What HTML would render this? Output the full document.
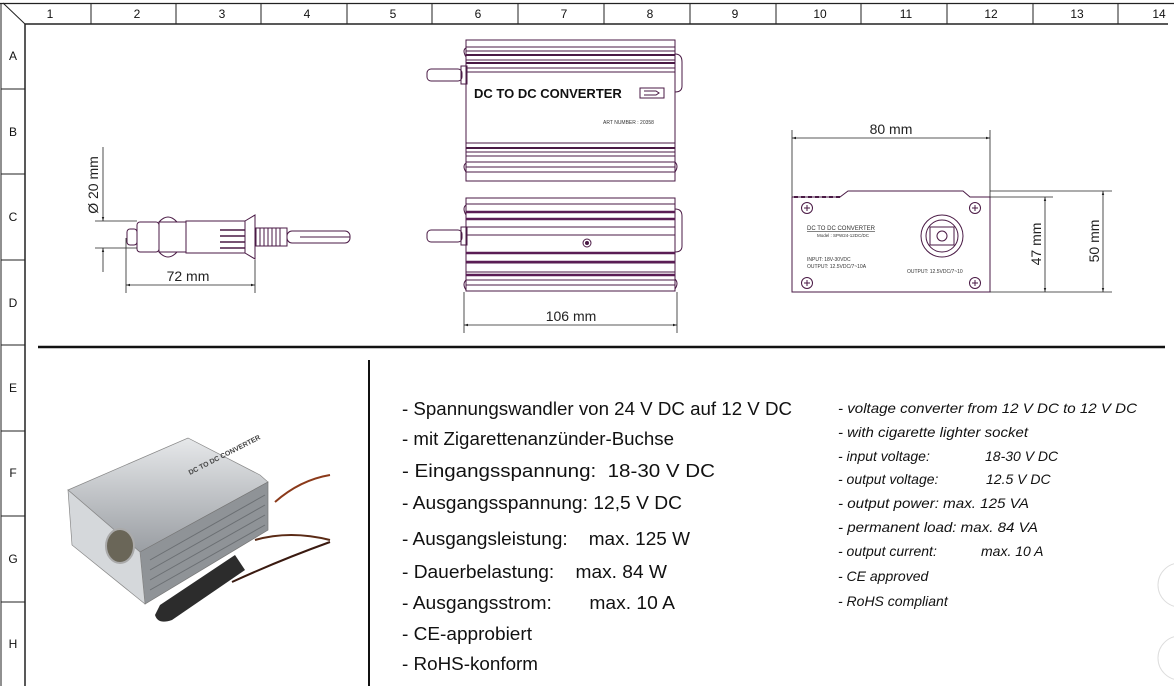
<!DOCTYPE html>
<html><head><meta charset="utf-8"><style>
html,body{margin:0;padding:0;background:#fff;}
svg{display:block;font-family:"Liberation Sans",sans-serif;}
text{white-space:pre;}
.g{font-size:18px;fill:#111;}
.e{font-size:14px;font-style:italic;fill:#111;}
.hd{font-size:12px;fill:#111;text-anchor:middle;}
</style></head><body>
<svg width="1174" height="686" viewBox="0 0 1174 686" xmlns="http://www.w3.org/2000/svg" xml:space="preserve">
<defs>
<linearGradient id="al" x1="0" y1="0" x2="0" y2="1"><stop offset="0" stop-color="#e6e8ea"/><stop offset="1" stop-color="#9a9ea3"/></linearGradient>
<marker id="ar" viewBox="0 0 10 10" refX="10" refY="5" markerWidth="9" markerHeight="5" orient="auto-start-reverse"><path d="M0,2L10,5L0,8z" fill="#222"/></marker>
</defs>
<g stroke="#222" fill="none">
<line x1="0" y1="3.5" x2="1174" y2="3.5" stroke-width="1.2"/>
<line x1="25" y1="24" x2="1168" y2="24" stroke-width="1.5"/>
<line x1="25" y1="24" x2="25" y2="686" stroke-width="1.5"/>
<line x1="3" y1="3" x2="25" y2="24" stroke-width="1"/>
<line x1="1" y1="3" x2="1" y2="686" stroke-width="1"/>
<g stroke-width="1">
<line x1="91" y1="3" x2="91" y2="24"/><line x1="176" y1="3" x2="176" y2="24"/><line x1="261" y1="3" x2="261" y2="24"/><line x1="347" y1="3" x2="347" y2="24"/><line x1="432" y1="3" x2="432" y2="24"/><line x1="518" y1="3" x2="518" y2="24"/><line x1="604" y1="3" x2="604" y2="24"/><line x1="690" y1="3" x2="690" y2="24"/><line x1="776" y1="3" x2="776" y2="24"/><line x1="861" y1="3" x2="861" y2="24"/><line x1="947" y1="3" x2="947" y2="24"/><line x1="1033" y1="3" x2="1033" y2="24"/><line x1="1118" y1="3" x2="1118" y2="24"/>
<line x1="1" y1="89" x2="25" y2="89"/><line x1="1" y1="174" x2="25" y2="174"/><line x1="1" y1="260" x2="25" y2="260"/><line x1="1" y1="345" x2="25" y2="345"/><line x1="1" y1="431" x2="25" y2="431"/><line x1="1" y1="516" x2="25" y2="516"/><line x1="1" y1="602" x2="25" y2="602"/>
</g>
</g>
<g class="hd">
<text x="50" y="18">1</text><text x="137" y="18">2</text><text x="222" y="18">3</text><text x="307" y="18">4</text><text x="393" y="18">5</text><text x="478" y="18">6</text><text x="564" y="18">7</text><text x="650" y="18">8</text><text x="735" y="18">9</text><text x="820" y="18">10</text><text x="906" y="18">11</text><text x="991" y="18">12</text><text x="1077" y="18">13</text><text x="1159" y="18">14</text>
<text x="13" y="60">A</text><text x="13" y="136">B</text><text x="13" y="221">C</text><text x="13" y="307">D</text><text x="13" y="392">E</text><text x="13" y="477">F</text><text x="13" y="563">G</text><text x="13" y="648">H</text>
</g>
<line x1="38" y1="347" x2="1165" y2="347" stroke="#111" stroke-width="2.5"/>
<line x1="369" y1="360" x2="369" y2="686" stroke="#111" stroke-width="2"/>

<g stroke="#4a1a45" fill="none" stroke-width="1">
<rect x="127" y="229" width="10" height="16" rx="3"/>
<rect x="137" y="222" width="22" height="30" rx="3"/>
<path d="M159,222 Q168,212 177,222 M159,252 Q168,262 177,252"/>
<rect x="159" y="222" width="27" height="30"/>
<rect x="186" y="221" width="59" height="32"/>
<path d="M245,221 L255,215 L255,259 L245,253"/>
<path d="M220,230H245M220,236H245M220,242H245M220,248H245" stroke-width="1.6"/>
<rect x="256" y="228" width="31" height="18"/>
<path d="M260,228V246M264,228V246M268,228V246M272,228V246M276,228V246M280,228V246"/>
<rect x="287" y="231" width="63" height="12" rx="5"/>
<line x1="300" y1="237" x2="350" y2="237"/>
</g>
<g stroke="#222" fill="none" stroke-width="0.8">
<line x1="126" y1="238" x2="126" y2="293"/><line x1="255" y1="260" x2="255" y2="293"/>
<line x1="126" y1="285" x2="255" y2="285" marker-start="url(#ar)" marker-end="url(#ar)"/>
<line x1="95" y1="221" x2="137" y2="221"/><line x1="95" y1="248" x2="137" y2="248"/>
<line x1="103" y1="147" x2="103" y2="221" marker-end="url(#ar)"/>
<line x1="103" y1="272" x2="103" y2="248" marker-end="url(#ar)"/>
</g>
<text x="188" y="281" font-size="14" text-anchor="middle" fill="#222">72 mm</text>
<text transform="translate(98,185) rotate(-90)" font-size="14" text-anchor="middle" fill="#222">Ø 20 mm</text>

<g stroke="#4a1a45" fill="none" stroke-width="1">
<rect x="466" y="40" width="209" height="141"/>
<path d="M466,47H675M466,51H675M466,55H675M466,60H675M466,63H675M466,68H675M466,72H675M466,143H675M466,148H675M466,152H675M466,156H675M466,162H675M466,167H675M466,172H675"/>
<path d="M466,55H675M466,63H675M466,148H675" stroke-width="2"/>
<rect x="427" y="69" width="35" height="12" rx="4"/>
<rect x="461" y="66" width="6" height="18"/>
<path d="M675,54 Q682,54 682,62 V86 Q682,92 675,92"/>
<path d="M466,48 Q462,50 466,57 M466,163 Q462,166 466,172 M675,162 Q679,166 675,172"/>
<rect x="640" y="88" width="24" height="10"/>
<path d="M644,91H656L659,93L656,95H644"/>
</g>
<text x="474" y="98" font-size="13" font-weight="bold" fill="#111">DC TO DC CONVERTER</text>
<text x="603" y="124" font-size="5" fill="#333">ART NUMBER : 20358</text>

<g stroke="#4a1a45" fill="none" stroke-width="1">
<rect x="466" y="198" width="209" height="93"/>
<path d="M466,204H675M466,212H675M466,219H675M466,227H675M466,235H675M466,263H675M466,272H675M466,280H675M466,285H675"/>
<path d="M466,212H675M466,219H675M466,253H675M466,262H675M466,275H675" stroke-width="2.5" stroke="#5a1d55"/>
<rect x="427" y="230" width="35" height="12" rx="4"/>
<rect x="461" y="227" width="6" height="18"/>
<path d="M675,209 Q682,209 682,216 V246 Q682,252 675,252"/>
<path d="M466,205 Q462,208 466,215 M466,280 Q462,284 466,290 M675,279 Q679,283 675,289"/>
<circle cx="587" cy="243" r="4"/><circle cx="587" cy="243" r="1.5" fill="#4a1a45"/>
</g>
<g stroke="#222" fill="none" stroke-width="0.8">
<line x1="464" y1="292" x2="464" y2="333"/><line x1="677" y1="292" x2="677" y2="333"/>
<line x1="464" y1="325" x2="677" y2="325" marker-start="url(#ar)" marker-end="url(#ar)"/>
</g>
<text x="571" y="321" font-size="14" text-anchor="middle" fill="#222">106 mm</text>

<g stroke="#4a1a45" fill="none" stroke-width="1">
<path d="M792,197 V292 H990 V197 M792,197 H840 L848,191 H963 L970,197 H990"/>
<path d="M794,197H840" stroke-dasharray="4,3" stroke-width="2"/>
<circle cx="807" cy="208" r="5.5"/><circle cx="975" cy="208" r="5.5"/><circle cx="807" cy="283" r="5.5"/><circle cx="975" cy="283" r="5.5"/>
<path d="M804,208h6M807,205v6M972,208h6M975,205v6M804,283h6M807,280v6M972,283h6M975,280v6"/>
<circle cx="942" cy="236" r="21"/><circle cx="942" cy="236" r="16"/>
<rect x="930" y="227" width="24" height="18"/><circle cx="942" cy="236" r="5"/>
</g>
<text x="807" y="230" font-size="6" fill="#333" text-decoration="underline">DC TO DC CONVERTER</text>
<text x="817" y="237" font-size="4.5" fill="#333">Model : SPW24-12DC/DC</text>
<text x="807" y="261" font-size="5" fill="#333">INPUT: 18V-30VDC</text>
<text x="807" y="268" font-size="5" fill="#333">OUTPUT: 12.5VDC/7~10A</text>
<text x="907" y="273" font-size="5" fill="#333">OUTPUT: 12.5VDC/7~10</text>
<g stroke="#222" fill="none" stroke-width="0.8">
<line x1="792" y1="130" x2="792" y2="197"/><line x1="990" y1="130" x2="990" y2="197"/>
<line x1="792" y1="138" x2="990" y2="138" marker-start="url(#ar)" marker-end="url(#ar)"/>
<line x1="990" y1="197" x2="1053" y2="197"/><line x1="990" y1="292" x2="1112" y2="292"/><line x1="990" y1="191" x2="1112" y2="191"/>
<line x1="1045" y1="197" x2="1045" y2="292" marker-start="url(#ar)" marker-end="url(#ar)"/>
<line x1="1103" y1="191" x2="1103" y2="292" marker-start="url(#ar)" marker-end="url(#ar)"/>
</g>
<text x="891" y="134" font-size="14" text-anchor="middle" fill="#222">80 mm</text>
<text transform="translate(1041,244) rotate(-90)" font-size="14" text-anchor="middle" fill="#222">47 mm</text>
<text transform="translate(1099,241) rotate(-90)" font-size="14" text-anchor="middle" fill="#222">50 mm</text>

<g>
<path d="M275,502 Q300,480 330,475" stroke="#8b3a1a" stroke-width="2" fill="none"/>
<path d="M255,540 Q290,530 330,540" stroke="#5a2a15" stroke-width="2" fill="none"/>
<path d="M232,582 Q280,560 330,542" stroke="#3a1a10" stroke-width="2" fill="none"/>
<path d="M68,490 L188,438 L260,475 L268,482 L140,552 Z" fill="url(#al)" stroke="#888" stroke-width="0.7"/>
<path d="M140,552 L268,482 L268,530 L145,604 Z" fill="#8f9397" stroke="#777" stroke-width="0.7"/>
<path d="M68,490 L140,552 L145,604 L72,545 Z" fill="#d5d8db" stroke="#888" stroke-width="0.7"/>
<path d="M150,560L265,495M150,570L265,505M150,580L265,515M150,590L265,525" stroke="#6b6f73" stroke-width="1"/>
<ellipse cx="120" cy="546" rx="14" ry="17" fill="#6a6658" stroke="#aaa" stroke-width="2"/>
<path d="M160,605 L235,555 L245,570 L172,620 Q158,625 155,615 Z" fill="#2c2c2c"/>
<text transform="translate(190,475) rotate(-27)" font-size="7" font-weight="bold" fill="#444">DC TO DC CONVERTER</text>
</g>

<g class="g">
<text x="402" y="415" textLength="390" lengthAdjust="spacingAndGlyphs">- Spannungswandler von 24 V DC auf 12 V DC</text>
<text x="402" y="445" textLength="272" lengthAdjust="spacingAndGlyphs">- mit Zigarettenanzünder-Buchse</text>
<text x="402" y="477" textLength="313" lengthAdjust="spacingAndGlyphs">- Eingangsspannung:  18-30 V DC</text>
<text x="402" y="509" textLength="280" lengthAdjust="spacingAndGlyphs">- Ausgangsspannung: 12,5 V DC</text>
<text x="402" y="545" textLength="288" lengthAdjust="spacingAndGlyphs">- Ausgangsleistung:    max. 125 W</text>
<text x="402" y="578" textLength="265" lengthAdjust="spacingAndGlyphs">- Dauerbelastung:    max. 84 W</text>
<text x="402" y="609" textLength="273" lengthAdjust="spacingAndGlyphs">- Ausgangsstrom:       max. 10 A</text>
<text x="402" y="640" textLength="130" lengthAdjust="spacingAndGlyphs">- CE-approbiert</text>
<text x="402" y="670" textLength="136" lengthAdjust="spacingAndGlyphs">- RoHS-konform</text>
</g>
<g class="e">
<text x="838" y="413" textLength="299" lengthAdjust="spacingAndGlyphs">- voltage converter from 12 V DC to 12 V DC</text>
<text x="838" y="437" textLength="190" lengthAdjust="spacingAndGlyphs">- with cigarette lighter socket</text>
<text x="838" y="461">- input voltage:</text><text x="985" y="461">18-30 V DC</text>
<text x="838" y="484">- output voltage:</text><text x="986" y="484">12.5 V DC</text>
<text x="838" y="508" textLength="191" lengthAdjust="spacingAndGlyphs">- output power: max. 125 VA</text>
<text x="838" y="532" textLength="200" lengthAdjust="spacingAndGlyphs">- permanent load: max. 84 VA</text>
<text x="838" y="556">- output current:</text><text x="981" y="556">max. 10 A</text>
<text x="838" y="581">- CE approved</text>
<text x="838" y="606">- RoHS compliant</text>
</g>
<circle cx="1180" cy="585" r="22" fill="#fff" stroke="#ddd"/>
<circle cx="1180" cy="658" r="22" fill="#fff" stroke="#ddd"/>
</svg>
</body></html>
